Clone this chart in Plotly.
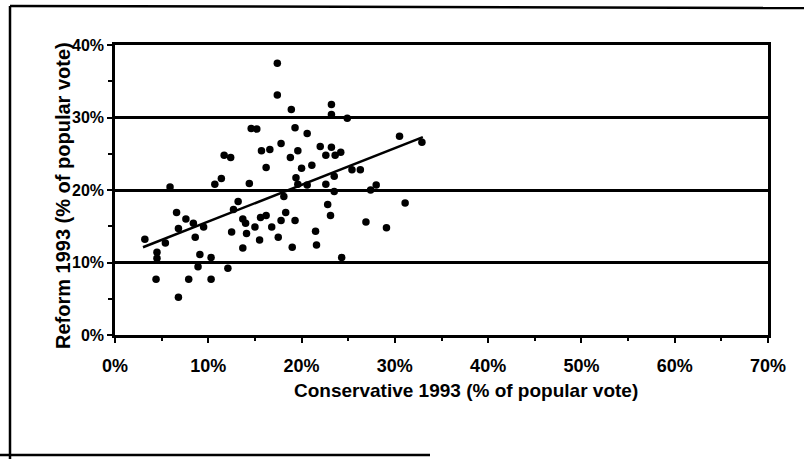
import plotly.graph_objects as go

# Conservative 1993 (% of popular vote) vs Reform 1993 (% of popular vote), per riding
conservative = [17.4, 17.4, 18.9, 23.2, 23.2, 24.9, 14.6, 15.2, 19.3, 20.6, 30.5, 32.9,
                17.8, 15.7, 16.6, 19.6, 22.0, 23.2, 22.6, 23.6, 24.2, 11.7, 12.4, 18.8,
                16.2, 20.0, 21.1, 25.4, 26.3, 23.5, 19.4, 11.4, 10.7, 14.4, 5.9, 19.6,
                20.6, 22.6, 23.5, 28.0, 27.4, 18.1, 13.2, 22.8, 31.1, 6.6, 7.6, 8.4,
                12.7, 18.3, 15.6, 16.2, 17.8, 19.3, 13.7, 14.0, 23.1, 26.9, 15.0, 16.8,
                9.5, 6.8, 3.2, 5.4, 12.5, 14.1, 17.5, 15.5, 8.6, 21.5, 29.1, 13.7,
                19.0, 21.6, 4.5, 4.5, 9.1, 10.3, 24.3, 8.9, 12.1, 4.4, 7.9, 10.3, 6.8]
reform = [37.5, 33.1, 31.1, 31.8, 30.4, 29.9, 28.5, 28.4, 28.6, 27.8, 27.4, 26.6,
          26.4, 25.4, 25.6, 25.4, 26.0, 25.9, 24.8, 24.8, 25.2, 24.8, 24.5, 24.5,
          23.1, 23.0, 23.4, 22.8, 22.8, 21.9, 21.7, 21.6, 20.8, 20.9, 20.4, 20.8,
          20.7, 20.8, 19.8, 20.7, 20.0, 19.1, 18.4, 18.0, 18.2, 16.9, 16.0, 15.4,
          17.3, 16.9, 16.2, 16.5, 15.8, 15.8, 16.0, 15.4, 16.5, 15.6, 14.9, 14.9,
          14.9, 14.7, 13.2, 12.7, 14.2, 14.0, 13.5, 13.1, 13.5, 14.3, 14.8, 12.0,
          12.1, 12.4, 11.4, 10.6, 11.1, 10.7, 10.7, 9.4, 9.2, 7.7, 7.7, 7.7, 5.2]

# linear trend line end points
trend_x = [3.0, 33.0]
trend_y = [12.1, 27.3]

x_tick_vals = [0, 10, 20, 30, 40, 50, 60, 70]
x_tick_text = ["0%", "10%", "20%", "30%", "40%", "50%", "60%", "70%"]
x_minor_vals = [5, 15, 25, 35, 45, 55, 65]
y_tick_vals = [0, 10, 20, 30, 40]
y_tick_text = ["0%", "10%", "20%", "30%", "40%"]
y_minor_vals = [5, 15, 25, 35]

x_title = "Conservative 1993 (% of popular vote)"
y_title = "Reform 1993 (% of popular vote)"

FONT = "Liberation Sans, Arial, sans-serif"
W, H = 804, 459
L, R, T, B = 115, 36, 45, 124
pw = W - L - R
ph = H - T - B


def px(xp):
    return (xp - L) / pw


def py(yp):
    return (H - B - yp) / ph


fig = go.Figure()
fig.add_trace(go.Scatter(
    x=conservative, y=reform, mode="markers",
    marker=dict(symbol="circle", size=7.5, color="black", line=dict(width=0)),
    showlegend=False, hoverinfo="x+y"))
fig.add_trace(go.Scatter(
    x=trend_x, y=trend_y, mode="lines",
    line=dict(color="black", width=2.5), showlegend=False, hoverinfo="skip"))

fig.update_layout(
    width=W, height=H,
    paper_bgcolor="white", plot_bgcolor="white",
    margin=dict(l=L, r=R, t=T, b=B, pad=0),
    font=dict(family=FONT, color="black"),
    showlegend=False,
    xaxis=dict(
        range=[0, 70], tickvals=x_tick_vals, ticktext=x_tick_text,
        showgrid=False, zeroline=False,
        showline=True, linecolor="black", linewidth=2.5, mirror=True,
        ticks="outside", ticklen=5, tickwidth=2, tickcolor="black",
        ticklabelstandoff=8,
        minor=dict(tickvals=x_minor_vals, ticks="outside", ticklen=3,
                   tickwidth=2, tickcolor="black"),
        tickfont=dict(size=18, family=FONT, color="black", weight="bold"),
        fixedrange=True,
    ),
    yaxis=dict(
        range=[0, 40], tickvals=y_tick_vals, ticktext=y_tick_text,
        showgrid=True, gridcolor="black", gridwidth=2.5, zeroline=False,
        showline=True, linecolor="black", linewidth=2.5, mirror=True,
        ticks="outside", ticklen=5, tickwidth=2, tickcolor="black",
        minor=dict(tickvals=y_minor_vals, ticks="outside", ticklen=4,
                   tickwidth=2, tickcolor="black"),
        tickfont=dict(size=16, family=FONT, color="black", weight="bold"),
        fixedrange=True,
    ),
    annotations=[
        dict(text=x_title, xref="paper", yref="paper", x=px(466), y=py(390),
             xanchor="center", yanchor="middle", showarrow=False,
             font=dict(size=19, family=FONT, color="black", weight="bold")),
        dict(text=y_title, xref="paper", yref="paper", x=px(63), y=py(196),
             xanchor="center", yanchor="middle", textangle=-90, showarrow=False,
             font=dict(size=20, family=FONT, color="black", weight="bold")),
    ],
)

# outer frame of the scanned page
fig.add_shape(type="line", xref="paper", yref="paper", x0=px(10), x1=px(10), y0=py(6), y1=py(459),
              line=dict(color="black", width=2.5))
fig.add_shape(type="line", xref="paper", yref="paper", x0=px(10), x1=px(804), y0=py(6), y1=py(8),
              line=dict(color="black", width=2.5))
fig.add_shape(type="line", xref="paper", yref="paper", x0=px(0), x1=px(430), y0=py(455), y1=py(455),
              line=dict(color="black", width=2.5))

fig.write_html("out.html", config={"displayModeBar": False},
               post_script="document.body.style.margin='0px';")
